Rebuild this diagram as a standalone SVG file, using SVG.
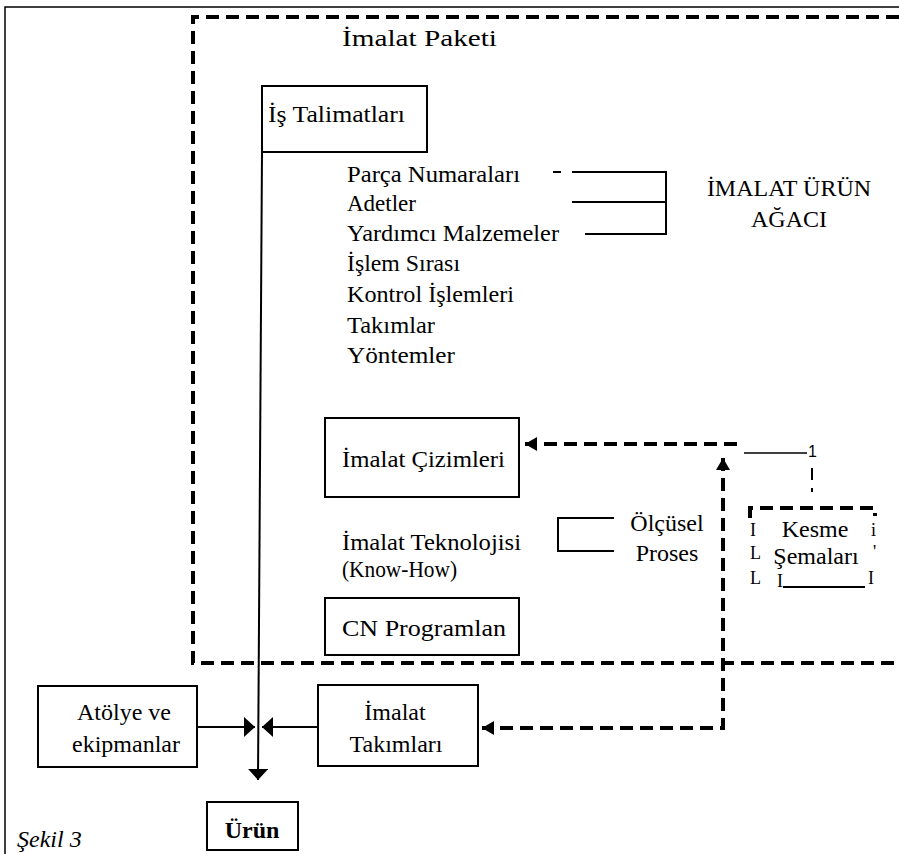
<svg xmlns="http://www.w3.org/2000/svg" width="899" height="854" viewBox="0 0 899 854">
<style>
.t{font-family:"Liberation Serif","Times New Roman",serif;font-size:24px;fill:#000}
.a{font-family:"Liberation Serif","Times New Roman",serif;font-size:18px;fill:#000}
.s{font-family:"Liberation Sans",Arial,sans-serif;fill:#000}
.box{fill:#fff;stroke:#000;stroke-width:2}
.ln{fill:none;stroke:#000;stroke-width:2}
.dash{fill:none;stroke:#000;stroke-width:4;stroke-dasharray:13 7}
</style>
<defs>
<marker id="as" markerUnits="userSpaceOnUse" viewBox="0 -10 11 20" refX="11" refY="0" markerWidth="11" markerHeight="20" orient="auto-start-reverse">
<path d="M0,-10 L11,0 L0,10 Z" fill="#000"/>
</marker>
<marker id="ad" markerUnits="userSpaceOnUse" viewBox="0 -7 12 14" refX="12" refY="0" markerWidth="12" markerHeight="14" orient="auto-start-reverse">
<path d="M0,-7 L12,0 L0,7 Z" fill="#000"/>
</marker>
</defs>
<rect width="899" height="854" fill="#fff"/>

<g id="frame">
<path d="M5,854 L5,7 L899,7" fill="none" stroke="#000" stroke-width="1.5"/>
</g>

<g id="package">
<path class="dash" d="M899,17 L193,17 L193,663 L899,663"/>
<text class="t" x="342" y="46" font-size="22" textLength="155" lengthAdjust="spacingAndGlyphs">İmalat Paketi</text>
</g>

<g id="is-talimatlari">
<rect class="box" x="262" y="86" width="165" height="66"/>
<text class="t" x="268" y="122" textLength="137" lengthAdjust="spacingAndGlyphs">İş Talimatları</text>
</g>

<g id="liste">
<text class="t" x="347" y="182" textLength="173" lengthAdjust="spacingAndGlyphs">Parça Numaraları</text>
<text class="t" x="347" y="211" textLength="69" lengthAdjust="spacingAndGlyphs">Adetler</text>
<text class="t" x="347" y="241" textLength="212" lengthAdjust="spacingAndGlyphs">Yardımcı Malzemeler</text>
<text class="t" x="347" y="271" textLength="113" lengthAdjust="spacingAndGlyphs">İşlem Sırası</text>
<text class="t" x="347" y="302" textLength="167" lengthAdjust="spacingAndGlyphs">Kontrol İşlemleri</text>
<text class="t" x="347" y="333" textLength="88" lengthAdjust="spacingAndGlyphs">Takımlar</text>
<text class="t" x="347" y="363" textLength="108" lengthAdjust="spacingAndGlyphs">Yöntemler</text>
</g>

<g id="urun-agaci">
<text class="t" x="789" y="196" font-size="26" text-anchor="middle">İMALAT ÜRÜN</text>
<text class="t" x="789" y="227" font-size="26" text-anchor="middle">AĞACI</text>
</g>

<g id="imalat-cizimleri">
<rect class="box" x="325" y="418" width="194" height="79"/>
<text class="t" x="342" y="467" textLength="163" lengthAdjust="spacingAndGlyphs">İmalat Çizimleri</text>
</g>

<g id="imalat-teknolojisi">
<text class="t" x="342" y="550" textLength="179" lengthAdjust="spacingAndGlyphs">İmalat Teknolojisi</text>
<text class="t" x="342" y="577" textLength="115" lengthAdjust="spacingAndGlyphs">(Know-How)</text>
</g>

<g id="olcusel-proses">
<text class="t" x="667" y="531" text-anchor="middle">Ölçüsel</text>
<text class="t" x="667" y="561" text-anchor="middle">Proses</text>
</g>

<g id="cn-programlan">
<rect class="box" x="325" y="598" width="194" height="57"/>
<text class="t" x="342" y="636" textLength="164" lengthAdjust="spacingAndGlyphs">CN Programlan</text>
</g>

<g id="kesme-semalari">
<path class="dash" d="M750,518 L750,508 L875,508 L875,516"/>
<path class="ln" d="M783,587 L865,587"/>
<text class="t" x="815" y="537" font-size="23" text-anchor="middle">Kesme</text>
<text class="t" x="816" y="564" font-size="23" text-anchor="middle">Şemaları</text>
<text class="a" x="750" y="536">I</text>
<text class="a" x="750" y="559">L</text>
<text class="a" x="750" y="584">L</text>
<text class="a" x="777" y="587">I</text>
<text class="a" x="871" y="536">i</text>
<text class="a" x="873" y="558">'</text>
<text class="a" x="868" y="584">I</text>
</g>

<g id="atolye">
<rect class="box" x="38" y="686" width="159" height="81"/>
<text class="t" x="124" y="720" text-anchor="middle">Atölye ve</text>
<text class="t" x="126" y="752" text-anchor="middle">ekipmanlar</text>
</g>

<g id="imalat-takimlari">
<rect class="box" x="318" y="685" width="160" height="81"/>
<text class="t" x="395" y="720" text-anchor="middle">İmalat</text>
<text class="t" x="396" y="752" text-anchor="middle">Takımları</text>
</g>

<g id="urun">
<rect class="box" x="207" y="802" width="91" height="48"/>
<text class="t" x="252" y="838" font-size="25" font-weight="bold" text-anchor="middle">Ürün</text>
</g>

<g id="sekil">
<text class="t" x="17" y="847" font-size="25" font-style="italic">Şekil 3</text>
</g>

<g id="connectors">
<path class="ln" d="M262,152 L258,780" marker-end="url(#as)"/>
<path class="ln" d="M197,727 L255,727" marker-end="url(#as)"/>
<path class="ln" d="M318,727 L262,727" marker-end="url(#as)"/>
<path class="ln" d="M553,172 L561,172 M572,172 L666,172 L666,234 L585,234 M572,202 L666,202"/>
<path class="ln" d="M614,518 L558,518 L558,551 L614,551"/>
<path class="dash" d="M737,444 L525,444" marker-end="url(#ad)"/>
<path class="dash" d="M723,458 L723,728 L482,728" marker-start="url(#ad)" marker-end="url(#ad)"/>
<path fill="none" stroke="#000" stroke-width="1.5" d="M744,453 L807,453"/>
<path fill="none" stroke="#000" stroke-width="2" stroke-dasharray="12 8" d="M812,468 L812,492"/>
<text class="s" x="808" y="457" font-size="16">1</text>
</g>
</svg>
